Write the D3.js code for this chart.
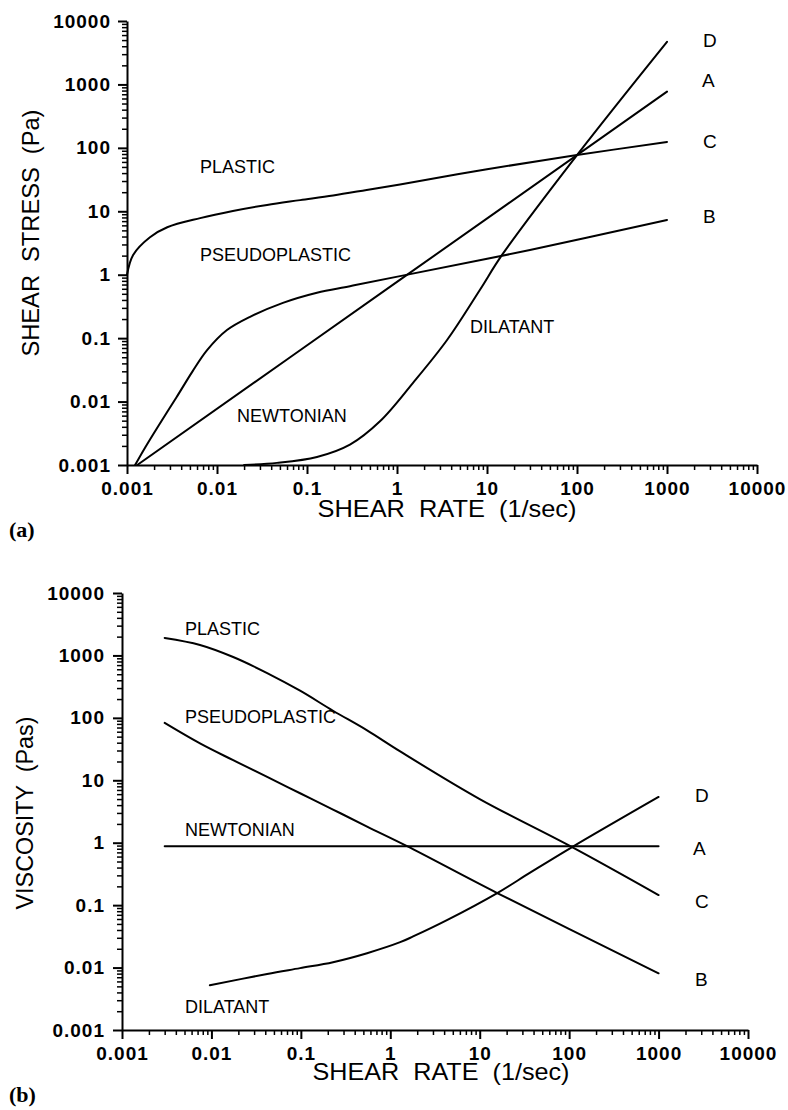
<!DOCTYPE html>
<html><head><meta charset="utf-8">
<script src="https://cdn.jsdelivr.net/npm/d3@7"></script>
<style>
html,body{margin:0;padding:0;background:#fff;}
svg{display:block;background:#fff;}
text{font-family:"Liberation Sans",Arial,sans-serif;fill:#000;}
</style></head><body>
<svg id="c" width="788" height="1110"></svg>
<script>
// ---------- data ----------
const decadeValues = [0.001, 0.01, 0.1, 1, 10, 100, 1000, 10000];
const decadeLabels = ["0.001", "0.01", "0.1", "1", "10", "100", "1000", "10000"];
const curveNames = ["PLASTIC", "PSEUDOPLASTIC", "NEWTONIAN", "DILATANT"];
const endLetters = ["C", "B", "A", "D"];

// (a) shear stress (Pa) vs shear rate (1/sec)
const stressPlastic = [[0.001,1.0],[0.00117,2.05],[0.0018,3.9],[0.0028,5.6],[0.0065,7.8],[0.015,10.1],[0.036,12.6],[0.084,15],[0.195,17.8],[0.46,21.7],[1.08,26.5],[10,46],[100,77],[1000,124]];
const stressPseudo = [[0.00123,0.001],[0.00158,0.00186],[0.00224,0.00417],[0.00355,0.0117],[0.00537,0.0302],[0.00776,0.0646],[0.0129,0.134],[0.023,0.215],[0.054,0.36],[0.129,0.52],[0.30,0.66],[1.08,0.95],[30,2.45],[1000,7.3]];
const stressNewton = [[0.0013,0.001],[1,0.77],[1000,770]];
const stressDilatant = [[0.02,0.001],[0.0464,0.00108],[0.129,0.00134],[0.30,0.0021],[0.647,0.0049],[1.5,0.0196],[3.6,0.0935],[8.36,0.58],[14.7,2.05],[100,77],[1000,4700]];

// (b) viscosity (Pas) vs shear rate (1/sec)
const viscPlastic = [[0.003,1900],[0.00745,1470],[0.0175,943],[0.042,522],[0.098,272],[0.229,130],[0.55,63],[1.29,29],[10,5.0],[108,0.85],[1000,0.145]];
const viscPseudo = [[0.003,83],[0.00745,39],[0.0175,21],[0.042,11.3],[0.098,6.2],[0.229,3.4],[0.55,1.81],[1.54,0.88],[15.7,0.156],[1000,0.0081]];
const viscNewton = [[0.003,0.88],[1000,0.88]];
const viscDilatant = [[0.0096,0.0052],[0.042,0.0079],[0.098,0.0098],[0.229,0.0122],[0.55,0.017],[1.29,0.0255],[1.8,0.0315],[4.3,0.0575],[15.7,0.156],[36.6,0.331],[108,0.85],[1000,5.4]];

// ---------- layout ----------
const svg = d3.select("#c");
const minorValues = [];
decadeValues.slice(0, -1).forEach(d => { for (let k = 2; k <= 9; k++) minorValues.push(d * k); });

const panels = [
  {
    xr: [127, 757], yr: [465, 21],
    series: [stressPlastic, stressPseudo, stressNewton, stressDilatant],
    yTitle: "SHEAR  STRESS  (Pa)", yTitleX: 39, yTitleY: 233, yTitleLen: 247,
    xTitleX: 447, xTitleY: 517, xTitleLen: 259,
    yPad: 7,
    tag: "(a)", tagY: 537,
    names: [[200,173],[200,261],[237,422],[470,333]],
    letters: [[703,148],[703,223],[702,87],[703,47]]
  },
  {
    xr: [122, 748], yr: [1030, 593],
    series: [viscPlastic, viscPseudo, viscNewton, viscDilatant],
    yTitle: "VISCOSITY  (Pas)", yTitleX: 33, yTitleY: 813, yTitleLen: 193,
    xTitleX: 441, xTitleY: 1080, xTitleLen: 257,
    yPad: 8,
    tag: "(b)", tagY: 1102,
    names: [[185,635],[185,723],[185,836],[185,1013]],
    letters: [[695,908],[695,986],[693,855],[695,802]]
  }
];

function styleAxis(sel, w) {
  sel.select(".domain").attr("stroke", "#000").attr("stroke-width", 2);
  sel.selectAll(".tick line").attr("stroke", "#000").attr("stroke-width", w);
  sel.selectAll("text").attr("fill", "#000");
}

panels.forEach(p => {
  const x = d3.scaleLog().domain([1e-3, 1e4]).range(p.xr);
  const y = d3.scaleLog().domain([1e-3, 1e4]).range(p.yr);
  const g = svg.append("g");
  const fontAttrs = s => s.attr("font-family", "Liberation Sans, Arial, sans-serif")
    .attr("font-size", 19).attr("font-weight", "bold").attr("letter-spacing", 1);

  // minor ticks
  g.append("g").attr("transform", `translate(0,${p.yr[0]})`)
    .call(d3.axisBottom(x).tickValues(minorValues).tickSize(5).tickSizeOuter(0).tickFormat(""))
    .call(s => { s.select(".domain").remove(); styleAxis(s, 1.5); });
  g.append("g").attr("transform", `translate(${p.xr[0]},0)`)
    .call(d3.axisLeft(y).tickValues(minorValues).tickSize(5).tickSizeOuter(0).tickFormat(""))
    .call(s => { s.select(".domain").remove(); styleAxis(s, 1.5); });

  // major axes
  g.append("g").attr("transform", `translate(0,${p.yr[0]})`)
    .call(d3.axisBottom(x).tickValues(decadeValues).tickSize(9).tickSizeOuter(0).tickPadding(8)
      .tickFormat((d, i) => decadeLabels[i]))
    .call(fontAttrs).call(s => styleAxis(s, 2));
  g.append("g").attr("transform", `translate(${p.xr[0]},0)`)
    .call(d3.axisLeft(y).tickValues(decadeValues).tickSize(9).tickSizeOuter(0).tickPadding(p.yPad)
      .tickFormat((d, i) => decadeLabels[i]))
    .call(fontAttrs).call(s => styleAxis(s, 2));

  // curves
  const line = d3.line().x(d => x(d[0])).y(d => y(d[1])).curve(d3.curveCatmullRom.alpha(0.5));
  g.selectAll("path.curve").data(p.series).join("path").attr("class", "curve")
    .attr("d", line).attr("fill", "none").attr("stroke", "#000").attr("stroke-width", 2)
    .attr("stroke-linejoin", "round").attr("stroke-linecap", "round");

  // curve names and end letters
  curveNames.forEach((n, i) => {
    g.append("text").attr("x", p.names[i][0]).attr("y", p.names[i][1])
      .attr("font-size", 18).text(n);
    g.append("text").attr("x", p.letters[i][0]).attr("y", p.letters[i][1])
      .attr("font-size", 19).text(endLetters[i]);
  });

  // axis titles
  g.append("text").attr("x", p.xTitleX).attr("y", p.xTitleY).attr("text-anchor", "middle")
    .attr("font-size", 24).style("white-space", "pre")
    .attr("textLength", p.xTitleLen).attr("lengthAdjust", "spacingAndGlyphs")
    .text("SHEAR  RATE  (1/sec)");
  g.append("text").attr("transform", `translate(${p.yTitleX},${p.yTitleY}) rotate(-90)`)
    .attr("text-anchor", "middle").attr("font-size", 24).style("white-space", "pre")
    .attr("textLength", p.yTitleLen).attr("lengthAdjust", "spacingAndGlyphs")
    .text(p.yTitle);

  // panel tag
  g.append("text").attr("x", 9).attr("y", p.tagY)
    .style("font-family", "Liberation Serif, Times New Roman, serif")
    .attr("font-size", 22).attr("font-weight", "bold").text(p.tag);
});
</script>
</body></html>
